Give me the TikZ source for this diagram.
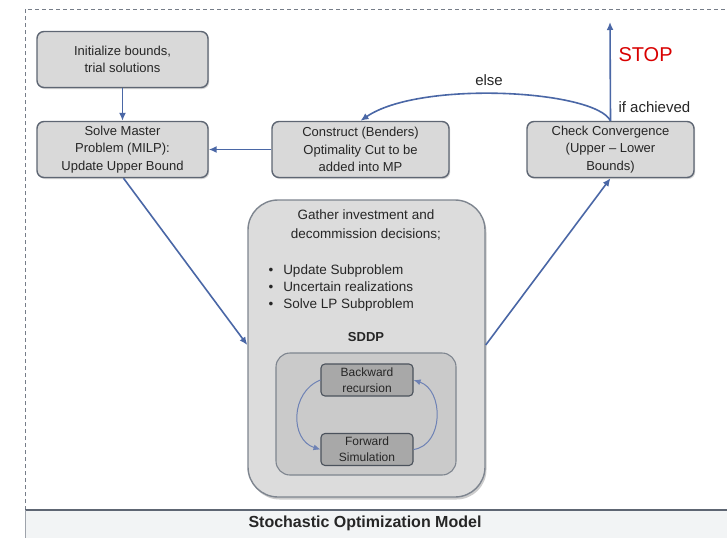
\documentclass[tikz,border=0pt]{standalone}
\usepackage{fontspec}
\setmainfont{Liberation Sans}
\usetikzlibrary{arrows.meta,shadows}
\definecolor{boxfill}{HTML}{D9D9D9}
\definecolor{boxline}{HTML}{5E6673}
\definecolor{bigfill}{HTML}{DCDCDC}
\definecolor{innerfill}{HTML}{CACACA}
\definecolor{darkfill}{HTML}{A8A8A8}
\definecolor{flow}{HTML}{4A67A6}
\definecolor{cycle}{HTML}{6E82B5}
\definecolor{txt}{HTML}{262626}
\definecolor{band}{HTML}{F2F4F5}
\begin{document}
\begin{tikzpicture}[x=1pt,y=-1pt,
  stepbox/.style={draw=boxline,line width=1.4pt,fill=boxfill,rounded corners=7pt,
    minimum width=171pt,minimum height=56pt,align=center,text=txt,
    font=\fontsize{13}{17.5}\selectfont,inner sep=2pt,
    drop shadow={shadow xshift=1.2pt,shadow yshift=-1.5pt,opacity=0.35}},
  subbox/.style={draw=boxline!80!black,line width=1.1pt,fill=darkfill,rounded corners=4pt,
    minimum width=92pt,minimum height=32pt,align=center,text=txt,
    font=\fontsize{12}{16}\selectfont,inner sep=1pt},
  flowarrow/.style={draw=flow,line width=1.6pt,-{Latex[length=8pt,width=7pt]}},
  cyclearrow/.style={draw=cycle,line width=1pt,-{Latex[length=7pt,width=6pt]}}]
\useasboundingbox (0,0) rectangle (727,538);
\fill[white] (0,0) rectangle (727,538);

% frame and caption band
\draw[boxline!85,line width=0.9pt,dash pattern=on 4pt off 3pt] (25,510) -- (25,9) -- (727,9);
\fill[band] (25,510) rectangle (727,538);
\draw[boxline,line width=1.2pt] (25,510) -- (727,510);
\draw[boxline!60,line width=0.8pt] (25,510) -- (25,538);
\node[font=\bfseries\fontsize{16}{18}\selectfont,text=txt] (title) at (365,523) {Stochastic Optimization Model};

% main steps
\node[stepbox] (init) at (122.5,59.5) {Initialize bounds,\\trial solutions};
\node[stepbox] (master) at (122.5,149.5) {Solve Master\\Problem (MILP):\\Update Upper Bound};
\node[stepbox,minimum width=177pt] (cut) at (360.5,149.5) {Construct (Benders)\\Optimality Cut to be\\added into MP};
\node[stepbox,minimum width=167pt] (check) at (610.5,149.5) {Check Convergence\\(Upper -- Lower\\Bounds)};

% subproblem block
\node[draw=boxline!80,line width=1.4pt,fill=bigfill,rounded corners=30pt,
  minimum width=237pt,minimum height=297pt,
  drop shadow={shadow xshift=1.5pt,shadow yshift=-2.5pt,opacity=0.4}] (sub) at (366.5,348.5) {};
\node[align=center,text=txt,font=\fontsize{13.5}{19}\selectfont] (gather) at (366,225) {Gather investment and\\decommission decisions;};
\node[align=left,text=txt,font=\fontsize{13.5}{17}\selectfont,anchor=north west] (bullets) at (265,261)
  {\textbullet\hspace{10pt}Update Subproblem\\\textbullet\hspace{10pt}Uncertain realizations\\\textbullet\hspace{10pt}Solve LP Subproblem};
\node[font=\bfseries\fontsize{13}{15}\selectfont,text=txt] (sddp) at (366,337) {SDDP};
\node[draw=boxline!80,line width=1.1pt,fill=innerfill,rounded corners=14pt,
  minimum width=180pt,minimum height=122pt] (inner) at (366,414) {};
\node[subbox] (back) at (367,380) {Backward\\recursion};
\node[subbox] (fwd) at (367,449.5) {Forward\\Simulation};

% inner cycle
\draw[cyclearrow] (back.west) .. controls (290,392) and (290,440) .. (fwd.west);
\draw[cyclearrow] (fwd.east) .. controls (444,445) and (444,390) .. (back.east);

% connectors
\coordinate (stop) at (610,22);
\draw[flowarrow] (init) -- (master);
\draw[flowarrow] (cut) -- (master);
\draw[flowarrow] (master.south) ++(1,0) coordinate (m1) -- (sub.west |- 0,345);
\draw[flowarrow] (sub.east |- 0,345) -- (check.south);
\draw[flowarrow] (check.north) -- (stop);
\draw[flowarrow] (check.north) .. controls (595,90) and (420,80) .. (cut.north);

% labels
\node[text=red!85!black,font=\fontsize{20}{22}\selectfont,anchor=west] (stoplbl) at (615,55) {STOP};
\node[text=txt,font=\fontsize{15}{17}\selectfont] (elselbl) at (489,80) {else};
\node[text=txt,font=\fontsize{15}{17}\selectfont,anchor=west] (ifach) at (615,107) {if achieved};
\end{tikzpicture}
\end{document}
